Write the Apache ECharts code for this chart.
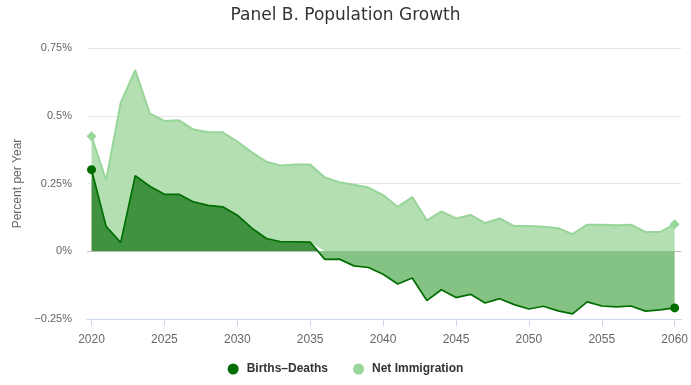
<!DOCTYPE html>
<html><head><meta charset="utf-8">
<script src="https://cdn.jsdelivr.net/npm/echarts@6/dist/echarts.min.js"></script>
<style>html,body{margin:0;padding:0;background:#fff}#c{width:691px;height:385px}</style>
</head><body><div id="c"></div>
<script>
const years = [2020,2021,2022,2023,2024,2025,2026,2027,2028,2029,2030,
  2031,2032,2033,2034,2035,2036,2037,2038,2039,2040,
  2041,2042,2043,2044,2045,2046,2047,2048,2049,2050,
  2051,2052,2053,2054,2055,2056,2057,2058,2059,2060];
const birthsDeaths = [0.301,0.092,0.032,0.279,0.240,0.210,0.210,0.182,0.169,0.164,0.133,
  0.085,0.047,0.035,0.035,0.034,-0.030,-0.029,-0.054,-0.060,-0.085,
  -0.121,-0.099,-0.182,-0.142,-0.171,-0.159,-0.191,-0.175,-0.197,-0.213,
  -0.203,-0.220,-0.231,-0.187,-0.202,-0.205,-0.202,-0.221,-0.216,-0.209];
const netImmigration = [0.123,0.170,0.515,0.389,0.268,0.271,0.273,0.267,0.270,0.275,0.272,
  0.280,0.283,0.281,0.285,0.286,0.272,0.255,0.245,0.235,0.207,
  0.164,0.200,0.114,0.147,0.121,0.134,0.104,0.121,0.093,0.093,
  0.090,0.085,0.063,0.098,0.098,0.096,0.098,0.071,0.071,0.100];
const xTicks = [2020,2025,2030,2035,2040,2045,2050,2055,2060];
const yTicks = [-0.25,0,0.25,0.5,0.75];
const seriesNames = ['Births\u2013Deaths','Net Immigration'];

const darkLine = '#006e00', posFill = '#409240', negFill = '#84c384';
const lightLine = '#98d598', lightFill = '#b3dfb3';
const labelFont = 'Liberation Sans';

const chart = echarts.init(document.getElementById('c'), null, {renderer:'canvas'});
const n = years.length;
function endSize(s){ return function(v, p){ return (p.dataIndex===0 || p.dataIndex===n-1) ? s : 0; }; }
function fmtPct(v){
  const a = parseFloat(Math.abs(v).toFixed(2));
  return (v < 0 ? '\u2212' : '') + a + '%';
}
// value first, year second, so that the stack is taken on the value dimension
function pairs(vals){ return years.map((y,i)=>[vals[i], y]); }
chart.setOption({
  animation:false,
  title:{text:'Panel B. Population Growth', left:'center', top:2,
    textStyle:{fontFamily:'DejaVu Sans', fontSize:17, fontWeight:'normal', color:'#333333'}},
  grid:{left:87, right:6, top:48, bottom:66, containLabel:false},
  legend:{top:358, left:'center', icon:'circle', itemWidth:11, itemHeight:11, itemGap:25,
    data:seriesNames,
    textStyle:{fontFamily:labelFont, fontSize:12, fontWeight:'bold', color:'#333333', padding:[0,0,0,3]}},
  xAxis:{type:'value', min:2019.69, max:2060.46,
    axisLine:{onZero:false, lineStyle:{color:'#ccd6eb', width:1}},
    axisTick:{show:true, length:7, lineStyle:{color:'#ccd6eb'}, customValues:xTicks},
    axisLabel:{customValues:xTicks, margin:15, fontFamily:labelFont, fontSize:12, color:'#666666',
      formatter:function(v){return String(v);}},
    splitLine:{show:false}},
  yAxis:{type:'value', min:yTicks[0], max:yTicks[yTicks.length-1], interval:0.25,
    name:'Percent per Year', nameLocation:'middle', nameGap:62,
    nameTextStyle:{fontFamily:labelFont, fontSize:12, color:'#666666'},
    axisLine:{show:false}, axisTick:{show:false},
    axisLabel:{margin:15, fontFamily:labelFont, fontSize:11, color:'#666666', formatter:fmtPct},
    splitLine:{lineStyle:{color:['#ccd6eb','#c0c0c0','#e6e6e6','#e6e6e6','#e6e6e6'], width:1}}},
  series:[
    {id:'bd', name:seriesNames[0], type:'line', stack:'total',
     dimensions:['val','year'], encode:{x:1, y:0},
     data:pairs(birthsDeaths),
     symbol:'circle', symbolSize:endSize(9), showSymbol:true, showAllSymbol:true,
     itemStyle:{color:darkLine}, lineStyle:{color:darkLine, width:1.7},
     areaStyle:{color:posFill, opacity:1}, z:2},
    {id:'ni', name:seriesNames[1], type:'line', stack:'total',
     dimensions:['val','year'], encode:{x:1, y:0},
     data:pairs(netImmigration),
     symbol:'diamond', symbolSize:endSize(10), showSymbol:true, showAllSymbol:true,
     itemStyle:{color:lightLine}, lineStyle:{color:lightLine, width:2},
     areaStyle:{color:lightFill, opacity:1}, z:1}
  ]
});
const yTop = chart.convertToPixel({yAxisIndex:0}, yTicks[yTicks.length-1]);
const yBot = chart.convertToPixel({yAxisIndex:0}, yTicks[0]);
const y0 = chart.convertToPixel({yAxisIndex:0}, 0);
const f = (y0 - yTop) / (yBot - yTop);
chart.setOption({series:[{id:'bd', areaStyle:{color:new echarts.graphic.LinearGradient(0, yTop, 0, yBot, [
  {offset:0, color:posFill},{offset:f, color:posFill},{offset:f, color:negFill},{offset:1, color:negFill}], true)}}]});
</script>
</body></html>
